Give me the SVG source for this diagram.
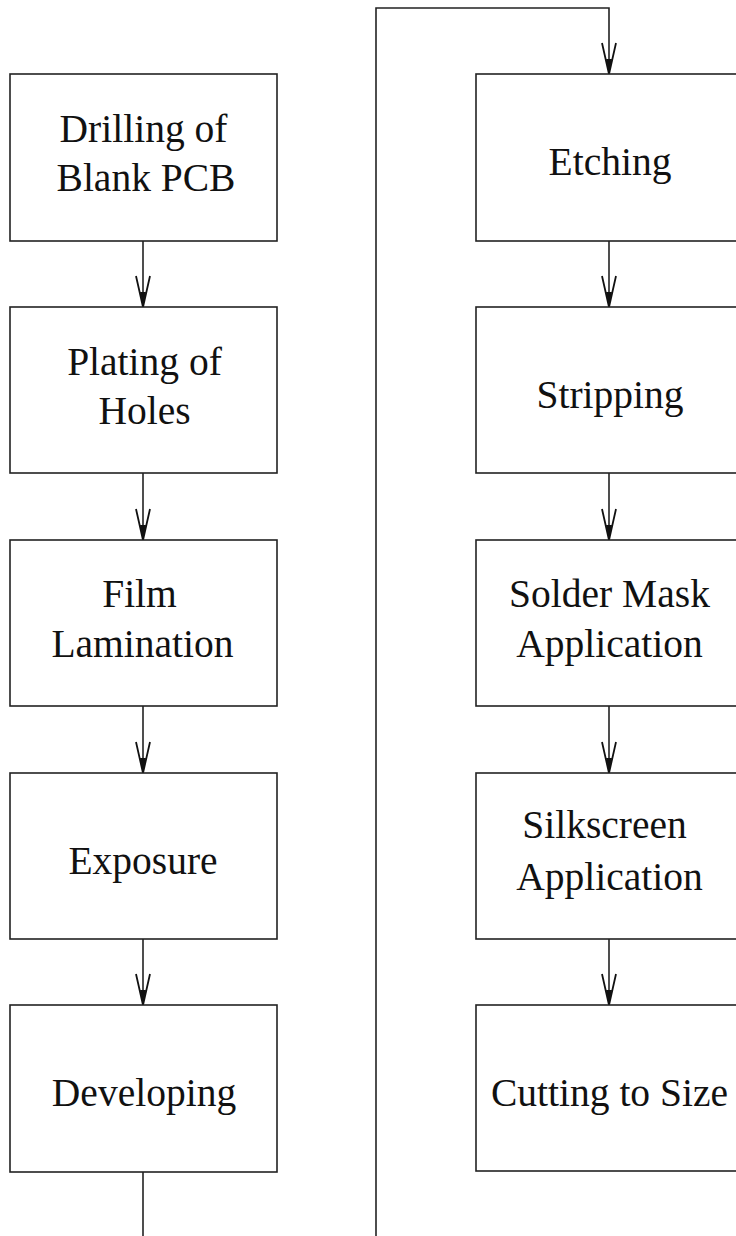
<svg xmlns="http://www.w3.org/2000/svg" width="736" height="1236" viewBox="0 0 736 1236">
<style>
.box{fill:#fff;stroke:#222;stroke-width:1.6}
.lbl{font-family:"Liberation Serif","Times New Roman",serif;font-size:39.5px;fill:#111;text-anchor:middle}
.con{fill:none;stroke:#222;stroke-width:1.6}
</style>
<defs>
<marker id="arr" viewBox="-34 -10 36 20" markerWidth="36" markerHeight="20" refX="0" refY="0" orient="auto" markerUnits="userSpaceOnUse">
<path d="M-31,-7 L0,0 L-31,7" fill="none" stroke="#111" stroke-width="1.8"/>
<path d="M-15,-3 L0,0 L-15,3 Z" fill="#111"/>
</marker>
</defs>
<rect width="736" height="1236" fill="#fff"/>
<g id="connectors">
<line class="con" x1="143" y1="241" x2="143" y2="307" marker-end="url(#arr)"/>
<line class="con" x1="143" y1="473" x2="143" y2="540" marker-end="url(#arr)"/>
<line class="con" x1="143" y1="706" x2="143" y2="773" marker-end="url(#arr)"/>
<line class="con" x1="143" y1="939" x2="143" y2="1005" marker-end="url(#arr)"/>
<path class="con" d="M143,1172 V1236"/>
<path class="con" d="M376,1236 V8 H609 V74" marker-end="url(#arr)"/>
<line class="con" x1="609" y1="241" x2="609" y2="307" marker-end="url(#arr)"/>
<line class="con" x1="609" y1="473" x2="609" y2="540" marker-end="url(#arr)"/>
<line class="con" x1="609" y1="706" x2="609" y2="773" marker-end="url(#arr)"/>
<line class="con" x1="609" y1="939" x2="609" y2="1005" marker-end="url(#arr)"/>
</g>
<g id="drilling">
<rect class="box" x="10" y="74" width="267" height="167"/>
<text class="lbl" x="143.5" y="142">Drilling of</text>
<text class="lbl" x="146" y="191">Blank PCB</text>
</g>
<g id="plating">
<rect class="box" x="10" y="307" width="267" height="166"/>
<text class="lbl" x="144.5" y="375">Plating of</text>
<text class="lbl" x="144.5" y="424">Holes</text>
</g>
<g id="film">
<rect class="box" x="10" y="540" width="267" height="166"/>
<text class="lbl" x="139.5" y="607">Film</text>
<text class="lbl" x="142.5" y="657">Lamination</text>
</g>
<g id="exposure">
<rect class="box" x="10" y="773" width="267" height="166"/>
<text class="lbl" x="143" y="874">Exposure</text>
</g>
<g id="developing">
<rect class="box" x="10" y="1005" width="267" height="167"/>
<text class="lbl" x="144" y="1106">Developing</text>
</g>
<g id="etching">
<rect class="box" x="476" y="74" width="267" height="167"/>
<text class="lbl" x="610" y="175">Etching</text>
</g>
<g id="stripping">
<rect class="box" x="476" y="307" width="267" height="166"/>
<text class="lbl" x="610" y="408">Stripping</text>
</g>
<g id="soldermask">
<rect class="box" x="476" y="540" width="267" height="166"/>
<text class="lbl" x="609.5" y="607">Solder Mask</text>
<text class="lbl" x="609.5" y="657">Application</text>
</g>
<g id="silkscreen">
<rect class="box" x="476" y="773" width="267" height="166"/>
<text class="lbl" x="604.5" y="838">Silkscreen</text>
<text class="lbl" x="609.5" y="890">Application</text>
</g>
<g id="cutting">
<rect class="box" x="476" y="1005" width="267" height="166"/>
<text class="lbl" x="609.5" y="1106" textLength="237" lengthAdjust="spacing">Cutting to Size</text>
</g>
</svg>
